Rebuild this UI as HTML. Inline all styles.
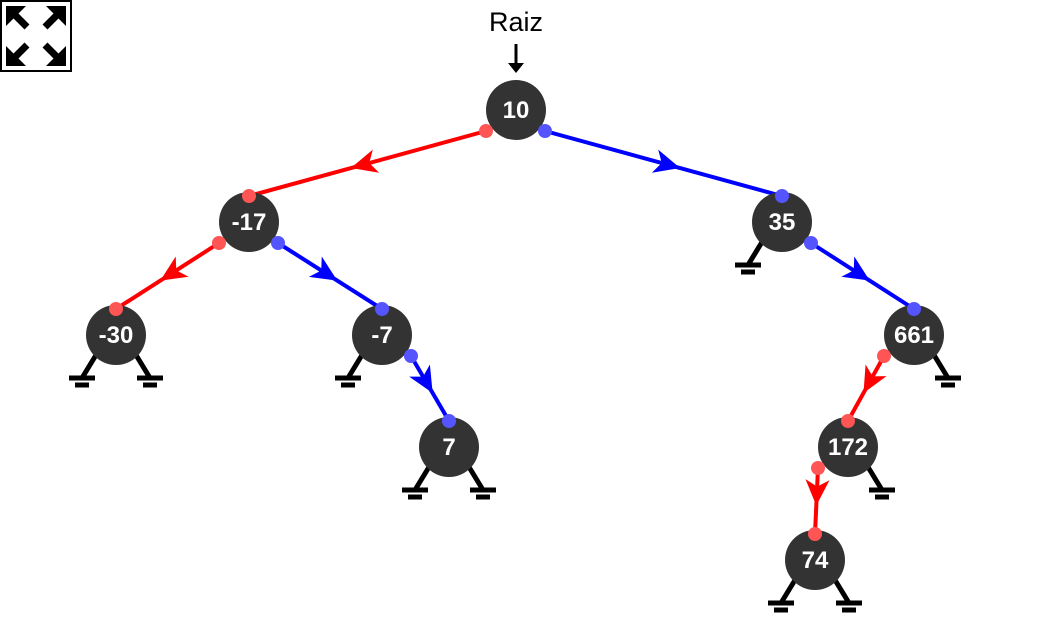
<!DOCTYPE html>
<html><head><meta charset="utf-8"><style>
html,body{margin:0;padding:0;background:#fff;width:1044px;height:642px;overflow:hidden}
svg{display:block}
</style></head><body>
<svg id="tree" width="1044" height="642" viewBox="0 0 1044 642" xmlns="http://www.w3.org/2000/svg">
<g>
<rect x="1" y="1" width="70" height="70" fill="#fff" stroke="#000" stroke-width="2"/>
<g stroke="#000" stroke-width="7" fill="none" stroke-linecap="butt">
<path d="M11 11 L27 27"/><path d="M61 11 L45 27"/><path d="M11 61 L27 45"/><path d="M61 61 L45 45"/>
</g>
<g fill="#000">
<polygon points="6,6 26,6 6,26"/><polygon points="66,6 46,6 66,26"/>
<polygon points="6,66 26,66 6,46"/><polygon points="66,66 46,66 66,46"/>
</g></g>
<text x="516" y="31" text-anchor="middle" font-family="Liberation Sans, sans-serif" font-size="27" fill="#000">Raiz</text>
<g>
<line x1="516" y1="44" x2="516" y2="66" stroke="#000" stroke-width="3"/>
<polygon points="508,63 524,63 516,73" fill="#000"/>
</g>
<g id="edges"></g><g id="grounds"></g><g id="nodes"></g>
</svg>
<script>
const labels = ["10","-17","35","-30","-7","661","7","172","74"];
const cxs = [516,249,782,116,382,914,449,848,815];
const cys = [110,222,222,335,335,335,447,447,560];
// edges: parent index, child index, side (L/R)
const parents = [0,0,1,1,2,4,5,7];
const children = [1,2,3,4,5,6,7,8];
const sides = ["L","R","L","R","R","R","L","L"];
// null children: node index, side
const nullNodes = [3,3,4,6,6,2,5,7,8,8];
const nullSides = ["L","R","L","L","R","L","R","R","L","R"];
const NS="http://www.w3.org/2000/svg";
function mk(t,a,p){const e=document.createElementNS(NS,t);for(const k in a)e.setAttribute(k,a[k]);p.appendChild(e);return e;}
const E=document.getElementById('edges'),G=document.getElementById('grounds'),N=document.getElementById('nodes');
for(let i=0;i<parents.length;i++){
  const p=parents[i],c=children[i],s=sides[i];
  const col=s==="L"?"#ff0000":"#0000ff";
  const x1=cxs[p]+(s==="L"?-30:29), y1=cys[p]+21;
  const x2=cxs[c], y2=cys[c]-26;
  const g=mk('g',{},E);
  
  
  mk('line',{x1,y1,x2,y2,stroke:col,'stroke-width':4},g);
  const dx=x2-x1,dy=y2-y1,L=Math.hypot(dx,dy),ux=dx/L,uy=dy/L;
  const tx=x1+dx*0.57,ty=y1+dy*0.57;
  const bx=tx-ux*26,by=ty-uy*26, nx=-uy,ny=ux;
  const mx=tx-ux*19,my=ty-uy*19;
  mk('polygon',{points:`${tx},${ty} ${bx+nx*12},${by+ny*12} ${mx},${my} ${bx-nx*12},${by-ny*12}`,fill:col},g);
}
for(let i=0;i<nullNodes.length;i++){
  const n=nullNodes[i],sg=nullSides[i]==="L"?-1:1,cx=cxs[n],cy=cys[n];
  const g=mk('g',{stroke:'#000','stroke-width':5,fill:'none'},G);
  
  
  mk('line',{x1:cx+sg*20,y1:cy+20,x2:cx+sg*34,y2:cy+43},g);
  mk('line',{x1:cx+sg*34-13,y1:cy+43,x2:cx+sg*34+13,y2:cy+43},g);
  mk('line',{x1:cx+sg*34-7,y1:cy+50,x2:cx+sg*34+7,y2:cy+50},g);
}
for(let i=0;i<labels.length;i++){
  const g=mk('g',{},N);
  
  
  mk('circle',{cx:cxs[i],cy:cys[i],r:30,fill:'#333'},g);
  const t=mk('text',{x:cxs[i],y:cys[i]+8,'text-anchor':'middle','font-family':'Liberation Sans, sans-serif','font-size':24,'font-weight':'bold',fill:'#fff'},g);
  t.textContent=labels[i];
}
for(let i=0;i<parents.length;i++){
  const p=parents[i],c=children[i],s=sides[i];
  const dc=s==="L"?"#ff5555":"#5555ff";
  const d1=mk('circle',{cx:cxs[p]+(s==="L"?-30:29),cy:cys[p]+21,r:7,fill:dc},N);
  
  
  const d2=mk('circle',{cx:cxs[c],cy:cys[c]-26,r:7,fill:dc},N);
  
  
}
</script>
</body></html>
